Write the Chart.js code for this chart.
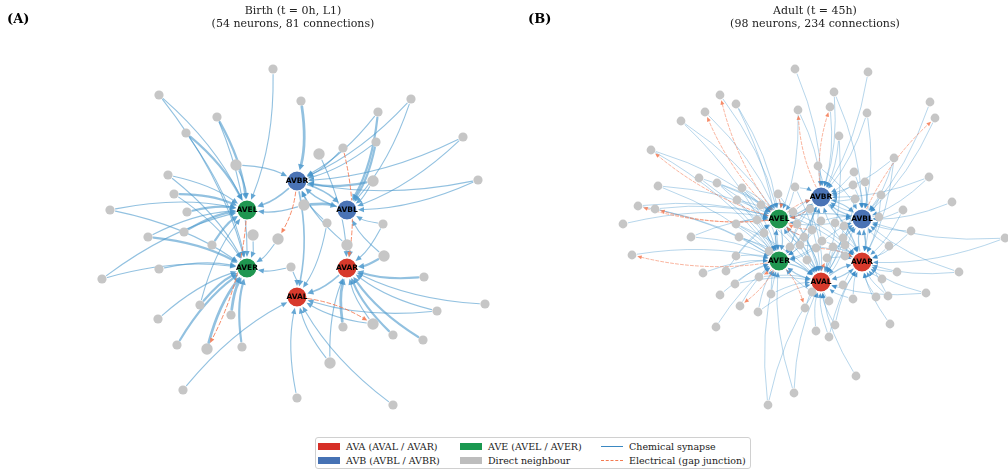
<!DOCTYPE html>
<html>
<head>
<meta charset="utf-8">
<script src="https://cdn.jsdelivr.net/npm/chart.js@4.4.1/dist/chart.umd.min.js"></script>
<style>
  body { margin: 0; background: #fff; font-family: "DejaVu Serif", serif; }
  #wrap { position: relative; width: 1008px; height: 470px; overflow: hidden; }
  #net { position: absolute; left: 0; top: 0; }
  .tag { position: absolute; font-weight: bold; font-size: 13px; line-height: 16px; }
  .title { position: absolute; width: 320px; text-align: center; font-size: 11px; line-height: 13px; color: #222; }
  #legend { position: absolute; left: 315px; top: 437px; width: 434px; height: 30px;
            border: 1px solid #d0d0d0; border-radius: 3px; background: #fff; font-size: 9.5px; color: #222; }
  .it { position: absolute; height: 12px; line-height: 12px; white-space: nowrap; }
  .patch { position: absolute; width: 22px; height: 7px; top: 2px; }
  .ln { position: absolute; width: 22px; top: 5px; height: 0; }
  .txt { position: absolute; left: 28px; top: 0; }
</style>
</head>
<body>
<div id="wrap">
  <canvas id="net" width="1008" height="470"></canvas>
  <div class="tag" style="left:7px;top:11px">(A)</div>
  <div class="tag" style="left:528px;top:11px">(B)</div>
  <div class="title" style="left:133px;top:4px">Birth (t = 0h, L1)<br>(54 neurons, 81 connections)</div>
  <div class="title" style="left:655px;top:4px">Adult (t = 45h)<br>(98 neurons, 234 connections)</div>
  <div id="legend">
    <div class="it" style="left:2px;top:3px"><span class="patch" style="background:#d62f27"></span><span class="txt">AVA (AVAL / AVAR)</span></div>
    <div class="it" style="left:2px;top:17px"><span class="patch" style="background:#4672b4"></span><span class="txt">AVB (AVBL / AVBR)</span></div>
    <div class="it" style="left:144px;top:3px"><span class="patch" style="background:#1a9850"></span><span class="txt">AVE (AVEL / AVER)</span></div>
    <div class="it" style="left:144px;top:17px"><span class="patch" style="background:#bdbdbd"></span><span class="txt">Direct neighbour</span></div>
    <div class="it" style="left:285px;top:3px"><span class="ln" style="border-top:1.5px solid #3a88c2"></span><span class="txt">Chemical synapse</span></div>
    <div class="it" style="left:285px;top:17px"><span class="ln" style="border-top:1.5px dashed #f47a50"></span><span class="txt">Electrical (gap junction)</span></div>
  </div>
</div>
<script>
// hub neurons (same order in both panels)
const HUB_CODES = ["AL", "AR", "BL", "BR", "EL", "ER"];
const HUB_NAMES = ["AVAL", "AVAR", "AVBL", "AVBR", "AVEL", "AVER"];
const HUB_COLORS = ["#d73a2c", "#d73a2c", "#4a73b5", "#4a73b5", "#1f9650", "#1f9650"];

// ---- panel A : birth ----
const HUB_A_X = [297, 347, 347, 297, 247, 247];
const HUB_A_Y = [297, 268, 210, 181, 210, 268];

const NB_A_X = [273, 159, 301, 411, 378, 217, 186, 376, 463, 319, 343, 236, 168, 373, 478, 174, 304, 110, 187, 327,
  383, 148, 184, 253, 278, 347, 212, 384, 159, 102, 291, 424, 200, 231, 158, 437, 485, 373, 343, 393,
  423, 177, 207, 242, 330, 183, 297, 393];
const NB_A_Y = [69, 95, 101, 99, 112, 117, 133, 142, 137, 154, 148, 165, 175, 181, 180, 194, 205, 210, 212, 223,
  224, 237, 232, 235, 239, 245, 245, 256, 269, 279, 267, 277, 305, 315, 319, 311, 304, 324, 327, 335,
  340, 345, 349, 347, 363, 390, 398, 405];
const NB_A_BIG = [10, 12, 14, 17, 24, 25, 26, 28, 38, 43, 45];

// neighbour -> hub chemical synapses ("XX:w" = heavier edge)
const NB_A_LINKS = ["EL", "EL ER", "BR:2.5", "BR BL", "BR BL:2", "EL:2 ER", "EL:2 ER", "BL:2 BR", "BL BR", "AR",
  "BR", "EL BR", "EL ER", "BR:2 BL", "BL BR", "ER EL:2", "EL BL:2.5", "ER EL", "EL:2", "BR AL",
  "BL AR", "EL ER:2", "EL:2", "ER", "ER", "AR BR", "EL:2", "AR:2 BL", "ER", "ER EL",
  "ER AL", "AR:2", "ER:2 EL", "ER:2.5", "ER", "AR AL", "AR", "AL AR", "AR:2.5", "AR:2",
  "AR:2", "ER:2", "ER:2.5", "ER:2", "AL AR", "AL", "AL", "AL"];
const HUB_A_LINKS = ["BR>EL", "BL>BR", "BR>BL", "BR>AL", "AR>AL"];
const GAP_A = ["BR>25", "11>AR", "EL>43", "AL>38"];

// ---- panel B : adult ----
const HUB_B_X = [821, 862, 862, 821, 779, 779];
const HUB_B_Y = [282, 262, 219, 197, 219, 261];

const NB_B_X = [795, 868, 834, 720, 736, 830, 930, 935, 705, 798, 867, 681, 839, 651, 894, 818, 854, 929, 699, 717,
  658, 742, 853, 865, 795, 778, 881, 737, 855, 952, 638, 655, 761, 810, 903, 623, 736, 797, 821, 835,
  844, 879, 911, 764, 691, 1005, 889, 739, 804, 822, 833, 843, 632, 736, 769, 790, 807, 827, 845, 703,
  726, 759, 897, 959, 735, 843, 882, 812, 720, 771, 853, 876, 888, 926, 829, 740, 805, 758, 716, 890,
  835, 816, 829, 856, 794, 768, 812, 800, 816, 845, 793, 757];
const NB_B_Y = [69, 72, 92, 95, 104, 107, 102, 118, 112, 110, 113, 121, 136, 150, 158, 166, 172, 177, 178, 183,
  186, 188, 185, 182, 187, 194, 195, 200, 199, 202, 206, 209, 205, 209, 210, 224, 224, 224, 221, 223,
  226, 217, 231, 233, 237, 238, 246, 237, 237, 241, 247, 238, 255, 256, 251, 247, 260, 258, 256, 273,
  271, 277, 272, 272, 284, 285, 279, 292, 295, 294, 299, 297, 296, 293, 301, 306, 308, 312, 327, 324,
  325, 331, 337, 376, 393, 405, 230, 245, 248, 245, 212, 220];

const NB_B_LINKS = ["BR", "BR", "BR BL", "EL", "EL ER", "BR", "BL", "BL", "EL", "BR EL",
  "BR BL", "EL ER", "BR AL", "EL ER", "BR BL AR", "BR BL", "BR BL", "BR BL", "EL ER", "EL ER AL",
  "ER EL", "EL AL ER", "BL BR", "BL AR", "EL BR AL", "EL AL", "BL AR", "EL ER", "BR AL", "BL",
  "EL ER", "EL ER", "EL ER AR", "AL EL", "BL AR", "EL", "EL ER AL", "BR AL ER", "BL ER", "AR EL BL",
  "BL AL", "BL BR", "AR BL", "ER EL", "ER EL", "AR BL", "AR BL", "ER AL", "AL EL", "AR ER BR",
  "AL AR", "AR BL", "ER", "ER EL", "ER AL", "ER BR", "AL BR", "AR AL", "AR BL", "ER",
  "ER EL", "ER AL", "AR", "AR BL", "ER AL", "AR AL", "AR", "AL", "ER", "ER AL",
  "AR AL", "AR", "AR BL", "AR AL", "AL ER", "ER", "AL", "ER AL", "ER", "AR",
  "AL AR", "AL", "AL AR", "AL", "ER AL", "AL ER", "BR ER", "EL AR", "BL ER", "BR AL", "AR BR", "EL"];
const HUB_B_LINKS = ["EL>ER", "ER>EL", "BR>EL", "BL>BR", "BR>BL", "AL>AR", "AR>AL", "ER>AL", "EL>AL",
  "BL>AR", "AR>BL", "BR>ER", "EL>BL", "AL>ER", "BR>AR", "AL>BL"];
const GAP_B = ["EL>4", "EL>9", "EL>14", "BR>6", "BL>8", "EL>31", "ER>53", "ER>77", "EL>32", "26>EL",
  "34>EL", "38>EL", "87>EL", "BR>10", "ER>62", "AL>58", "EL>BR", "89>AR", "49>EL", "ER>76"];

const HUB_R = 10;

function buildEdges(hx, hy, nx, ny, nr, links, hubLinks, gaps) {
  const node = (t) => {
    const h = HUB_CODES.indexOf(t);
    if (h >= 0) return { x: hx[h], y: hy[h], r: HUB_R };
    const i = +t - 1;
    return { x: nx[i], y: ny[i], r: nr[i] };
  };
  const chem = [];
  links.forEach((s, i) => {
    s.split(" ").filter(Boolean).forEach((tok) => {
      const [h, w] = tok.split(":");
      chem.push({ a: node(String(i + 1)), b: node(h), w: w ? +w : 1 });
    });
  });
  hubLinks.forEach((e) => {
    const [a, b] = e.split(">");
    chem.push({ a: node(a), b: node(b), w: 1.5 });
  });
  const gap = gaps.map((e) => {
    const [a, b] = e.split(">");
    return { a: node(a), b: node(b), w: 1 };
  });
  return { chem, gap };
}

const NB_A_R = NB_A_X.map((_, i) => (NB_A_BIG.includes(i + 1) ? 5.7 : 4.6));
const NB_B_R = NB_B_X.map(() => 4.4);

const PANELS = [
  {
    edges: buildEdges(HUB_A_X, HUB_A_Y, NB_A_X, NB_A_Y, NB_A_R, NB_A_LINKS, HUB_A_LINKS, GAP_A),
    chemStyle: { color: "rgba(74,152,204,0.6)", head: "rgba(74,152,204,0.85)", width: 1.1, rad: 0.1, hl: 6, hw: 2.6 },
    gapStyle: { color: "rgba(244,120,80,0.85)", head: "rgba(244,120,80,0.9)", width: 1, rad: 0.1, hl: 5, hw: 2.2, dash: [4, 2.5] },
  },
  {
    edges: buildEdges(HUB_B_X, HUB_B_Y, NB_B_X, NB_B_Y, NB_B_R, NB_B_LINKS, HUB_B_LINKS, GAP_B),
    chemStyle: { color: "rgba(74,152,204,0.5)", head: "rgba(60,140,200,0.85)", width: 0.8, rad: 0.1, hl: 5, hw: 2.2 },
    gapStyle: { color: "rgba(244,120,80,0.7)", head: "rgba(244,120,80,0.85)", width: 0.8, rad: 0.1, hl: 4.5, hw: 2, dash: [3, 2] },
  },
];

function trimPt(x, y, tx, ty, d) {
  const len = Math.hypot(tx - x, ty - y) || 1;
  return { x: x + ((tx - x) / len) * d, y: y + ((ty - y) / len) * d };
}

function drawEdge(ctx, xs, ys, e, st) {
  const x1 = xs.getPixelForValue(e.a.x), y1 = ys.getPixelForValue(e.a.y);
  const x2 = xs.getPixelForValue(e.b.x), y2 = ys.getPixelForValue(e.b.y);
  const dx = x2 - x1, dy = y2 - y1;
  const cx = x1 + dx / 2 + st.rad * dy, cy = y1 + dy / 2 - st.rad * dx;
  const s = trimPt(x1, y1, cx, cy, e.a.r + 1);
  const t = trimPt(x2, y2, cx, cy, e.b.r + 1);
  const ang = Math.atan2(t.y - cy, t.x - cx);
  const cos = Math.cos(ang), sin = Math.sin(ang);
  const bx = t.x - st.hl * cos, by = t.y - st.hl * sin;

  ctx.strokeStyle = st.color;
  ctx.lineWidth = st.width * e.w;
  ctx.setLineDash(st.dash || []);
  ctx.beginPath();
  ctx.moveTo(s.x, s.y);
  ctx.quadraticCurveTo(cx, cy, bx, by);
  ctx.stroke();

  ctx.setLineDash([]);
  ctx.fillStyle = st.head;
  const hw = st.hw * (e.w > 1 ? 1.2 : 1);
  ctx.beginPath();
  ctx.moveTo(t.x, t.y);
  ctx.lineTo(bx + hw * sin, by - hw * cos);
  ctx.lineTo(bx - hw * sin, by + hw * cos);
  ctx.closePath();
  ctx.fill();
}

const edgePlugin = {
  id: "edges",
  beforeDatasetsDraw(chart) {
    const ctx = chart.ctx;
    const xs = chart.scales.x, ys = chart.scales.y;
    ctx.save();
    ctx.lineCap = "round";
    PANELS.forEach((p) => {
      p.edges.chem.forEach((e) => drawEdge(ctx, xs, ys, e, p.chemStyle));
      p.edges.gap.forEach((e) => drawEdge(ctx, xs, ys, e, p.gapStyle));
    });
    ctx.restore();
  },
  afterDatasetsDraw(chart) {
    // hub name labels
    const ctx = chart.ctx;
    const xs = chart.scales.x, ys = chart.scales.y;
    ctx.save();
    ctx.font = "bold 7.5px 'DejaVu Sans'";
    ctx.fillStyle = "#000";
    ctx.textAlign = "center";
    ctx.textBaseline = "middle";
    [[HUB_A_X, HUB_A_Y], [HUB_B_X, HUB_B_Y]].forEach(([hx, hy]) => {
      HUB_NAMES.forEach((n, i) => ctx.fillText(n, xs.getPixelForValue(hx[i]), ys.getPixelForValue(hy[i])));
    });
    ctx.restore();
  },
};

const pts = (xa, ya) => xa.map((x, i) => ({ x: x, y: ya[i] }));

new Chart(document.getElementById("net"), {
  type: "scatter",
  data: {
    datasets: [
      { data: pts(NB_A_X, NB_A_Y), pointRadius: NB_A_R, backgroundColor: "#c6c6c6", borderWidth: 0 },
      { data: pts(NB_B_X, NB_B_Y), pointRadius: NB_B_R, backgroundColor: "#c6c6c6", borderWidth: 0 },
      { data: pts(HUB_A_X, HUB_A_Y), pointRadius: HUB_R, backgroundColor: HUB_COLORS, borderColor: "#fff", borderWidth: 1.2 },
      { data: pts(HUB_B_X, HUB_B_Y), pointRadius: HUB_R, backgroundColor: HUB_COLORS, borderColor: "#fff", borderWidth: 1.2 },
    ],
  },
  options: {
    responsive: false,
    animation: false,
    events: [],
    layout: { padding: 0, autoPadding: false },
    plugins: { legend: { display: false }, tooltip: { enabled: false }, title: { display: false } },
    scales: {
      x: { type: "linear", min: 0, max: 1008, display: false },
      y: { type: "linear", min: 0, max: 470, reverse: true, display: false },
    },
  },
  plugins: [edgePlugin],
});
</script>
</body>
</html>
